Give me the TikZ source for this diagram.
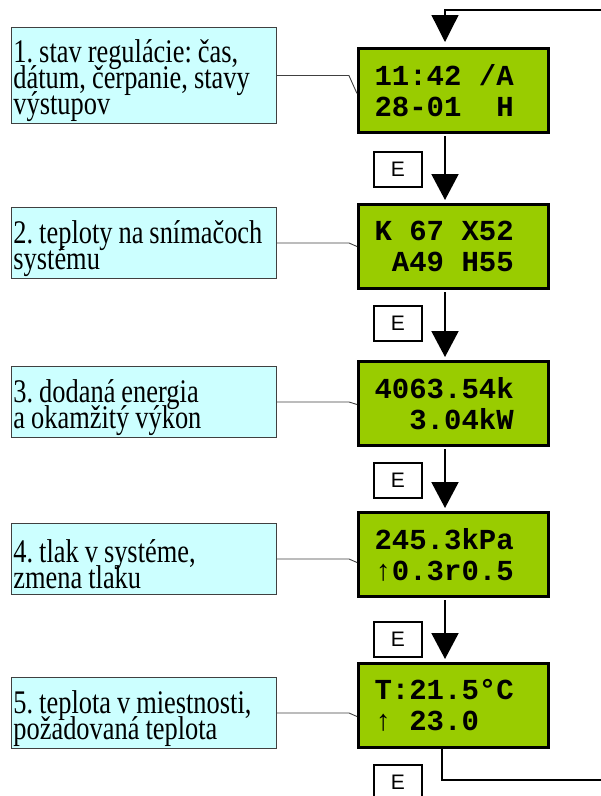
\documentclass[tikz,border=0pt]{standalone}
\usepackage{fontspec}
\usetikzlibrary{arrows.meta}

\newfontfamily\infofont[FakeStretch=0.80]{Liberation Serif}
\newfontfamily\lcdfont{Liberation Mono}
\newfontfamily\keyfont{Liberation Sans}

\definecolor{infocyan}{HTML}{CCFFFF}
\definecolor{lcdgreen}{HTML}{99CC00}

% one empty display cell, and a thin arrow in one cell
\newcommand\lcdgap{\hphantom{0}}
\newcommand\lcdup{\makebox[0.6em][c]{\mdseries ↑}}

\begin{document}
\begin{tikzpicture}
        [x=1pt, y=-1pt,
        info/.style={draw=black!75, line width=0.9pt, fill=infocyan, anchor=north west,
          minimum width=265pt, minimum height=71pt, inner xsep=2pt, inner ysep=0pt,
          text width=261pt, align=flush left,
          font={\infofont\fontsize{33}{26}\selectfont\lineskiplimit=-30pt\frenchspacing
            \spaceskip=6pt\hyphenpenalty=10000},
          execute at begin node={\rule{0pt}{34pt}}},
        lcd/.style={draw, line width=3pt, fill=lcdgreen, anchor=north west,
          minimum width=190pt, minimum height=84pt, inner xsep=16pt,
          text width=158pt, align=left,
          font={\lcdfont\bfseries\fontsize{29}{31}\selectfont}},
        key/.style={draw, line width=1.6pt, fill=white, anchor=north west,
          minimum width=48pt, minimum height=35pt, inner sep=0pt,
          font={\keyfont\fontsize{21}{21}\selectfont}},
        flow/.style={line width=2pt, -{Triangle[width=27pt,length=26pt]},
          shorten <=2pt, shorten >=3pt},
        callout/.style={draw=black!75, line width=0.9pt},
        loopline/.style={line width=1.3pt},
        looparrow/.style={line width=1.3pt, -{Triangle[width=27pt,length=27pt]},
          shorten >=5pt}]

        \useasboundingbox (0,0) rectangle (601,796);

        % descriptions
        \node[info, minimum height=96pt] (i1) at (11,27) {1. stav regulácie: čas,\\dátum, čerpanie, stavy\\výstupov};
        \node[info] (i2) at (11,207) {2. teploty na snímačoch\\systému};
        \node[info] (i3) at (11,366) {3. dodaná energia\\a okamžitý výkon};
        \node[info] (i4) at (11,523) {4. tlak v systéme,\\zmena tlaku};
        \node[info] (i5) at (11,677) {5. teplota v miestnosti,\\požadovaná teplota};

        % display screens
        \node[lcd] (g1) at (357,47) {11:42\lcdgap/A\\28-01\lcdgap\lcdgap H};
        \node[lcd] (g2) at (357,203) {K\lcdgap 67\lcdgap X52\\\lcdgap A49\lcdgap H55};
        \node[lcd] (g3) at (357,360) {4063.54k\\\lcdgap\lcdgap 3.04kW};
        \node[lcd] (g4) at (357,511) {245.3kPa\\\lcdup0.3r0.5};
        \node[lcd] (g5) at (357,662) {T:21.5°C\\\lcdup\lcdgap 23.0};

        % E keys
        \node[key] (e1) at (373,151) {E};
        \node[key] (e2) at (373,305) {E};
        \node[key] (e3) at (373,462) {E};
        \node[key] (e4) at (373,621) {E};
        \node[key] (e5) at (373,764) {E};

        \coordinate (ax) at (445,0);
        \coordinate (fb) at (442,0);
        \coordinate (loopbr) at (601,780);
        \coordinate (looptr) at (601,10);

        % description to screen
        \foreach \n/\dy in {1/-3,2/0,3/-1,4/-8,5/-11}
          \draw[callout] (i\n.east) -- ++(72,0) -- ([yshift=\dy pt]g\n.west);

        % key presses
        \foreach \a/\b in {1/2,2/3,3/4,4/5}
          \draw[flow] (g\a.south -| ax) -- (g\b.north -| ax);

        % back to the first screen
        \draw[loopline] (g5.south -| fb) |- (loopbr);
        \draw[looparrow] (looptr) -| (g1.north -| ax);

\end{tikzpicture}
\end{document}
